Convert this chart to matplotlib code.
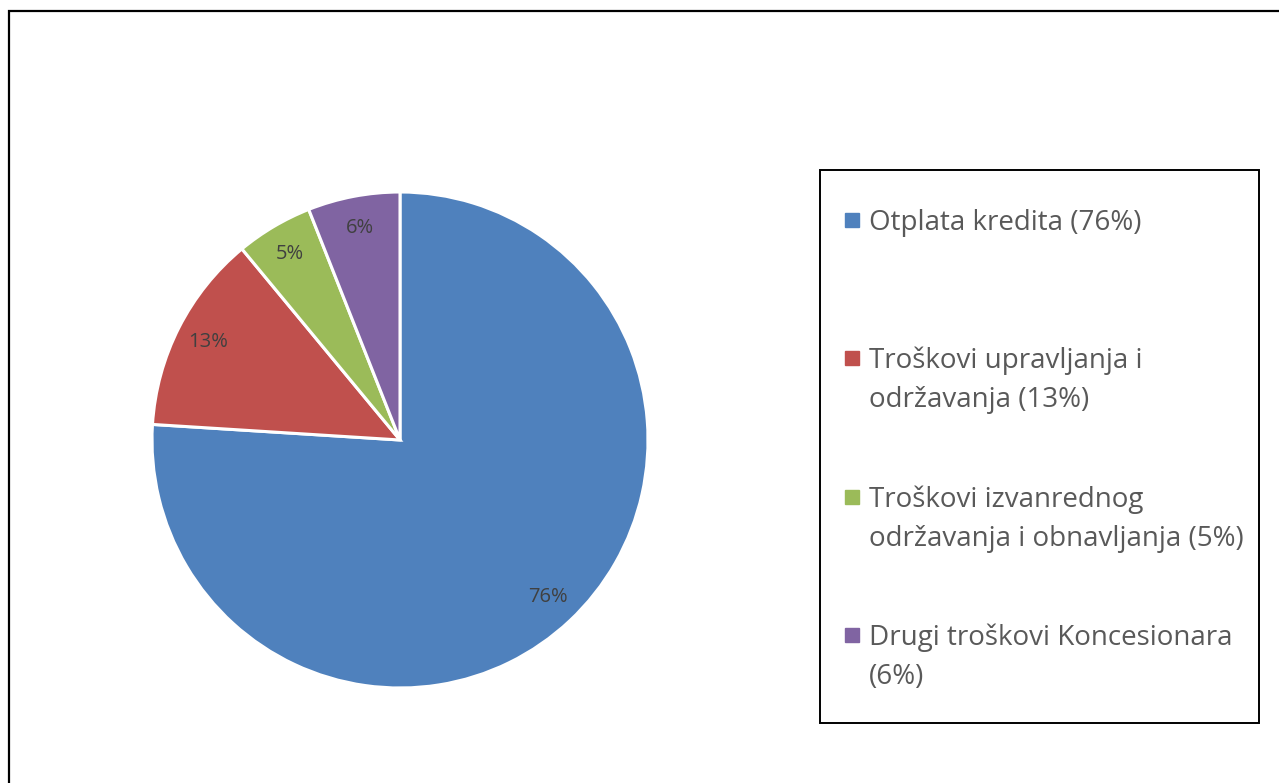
import matplotlib.pyplot as plt
from matplotlib.patches import Rectangle

# data
categories = ['Otplata kredita (76%)',
              'Troškovi upravljanja i\nodržavanja (13%)',
              'Troškovi izvanrednog\nodržavanja i obnavljanja (5%)',
              'Drugi troškovi Koncesionara\n(6%)']
shares = [76, 13, 5, 6]
colors = ['#4F81BD', '#C0504D', '#9BBB59', '#8064A2']

plt.rcParams['font.family'] = ['Open Sans', 'DejaVu Sans']

W, H = 1279, 783
fig = plt.figure(figsize=(W / 100, H / 100), dpi=100)

# outer frame of the chart area (runs off right and bottom edges)
fig.patches.append(Rectangle((9 / W, -0.05), 1.1, (H - 11) / H + 0.05,
                             transform=fig.transFigure, fill=False,
                             edgecolor='#000000', linewidth=1.6))

# pie, centre at (400, 440) px, radius 248 px
cx, cy, r = 400, 440, 248
ax = fig.add_axes([(cx - r) / W, (H - cy - r) / H, 2 * r / W, 2 * r / H])
wedges, texts, autotexts = ax.pie(
    shares, colors=colors, startangle=90, counterclock=False,
    autopct='%d%%', pctdistance=0.87,
    wedgeprops=dict(edgecolor='white', linewidth=2.2),
    textprops=dict(color='#404040', fontsize=14.5))
ax.set_xlim(-1, 1)
ax.set_ylim(-1, 1)
ax.set_aspect('equal')

# legend box drawn by hand to keep Excel's uneven spacing
fig.patches.append(Rectangle((820 / W, (H - 723) / H), 439 / W, 553 / H,
                             transform=fig.transFigure, fill=False,
                             edgecolor='#000000', linewidth=1.4))
baselines = [230, 368, 507, 645]  # first text line baseline, px from top
step = 39
for lab, col, y in zip(categories, colors, baselines):
    fig.patches.append(Rectangle((845 / W, (H - y + 3) / H), 14 / W, 14 / H,
                                 transform=fig.transFigure, color=col))
    for i, line in enumerate(lab.split('\n')):
        fig.text(869 / W, (H - y - i * step) / H, line, fontsize=20,
                 color='#595959', va='baseline', ha='left')

fig.savefig('out.png', dpi=100)
